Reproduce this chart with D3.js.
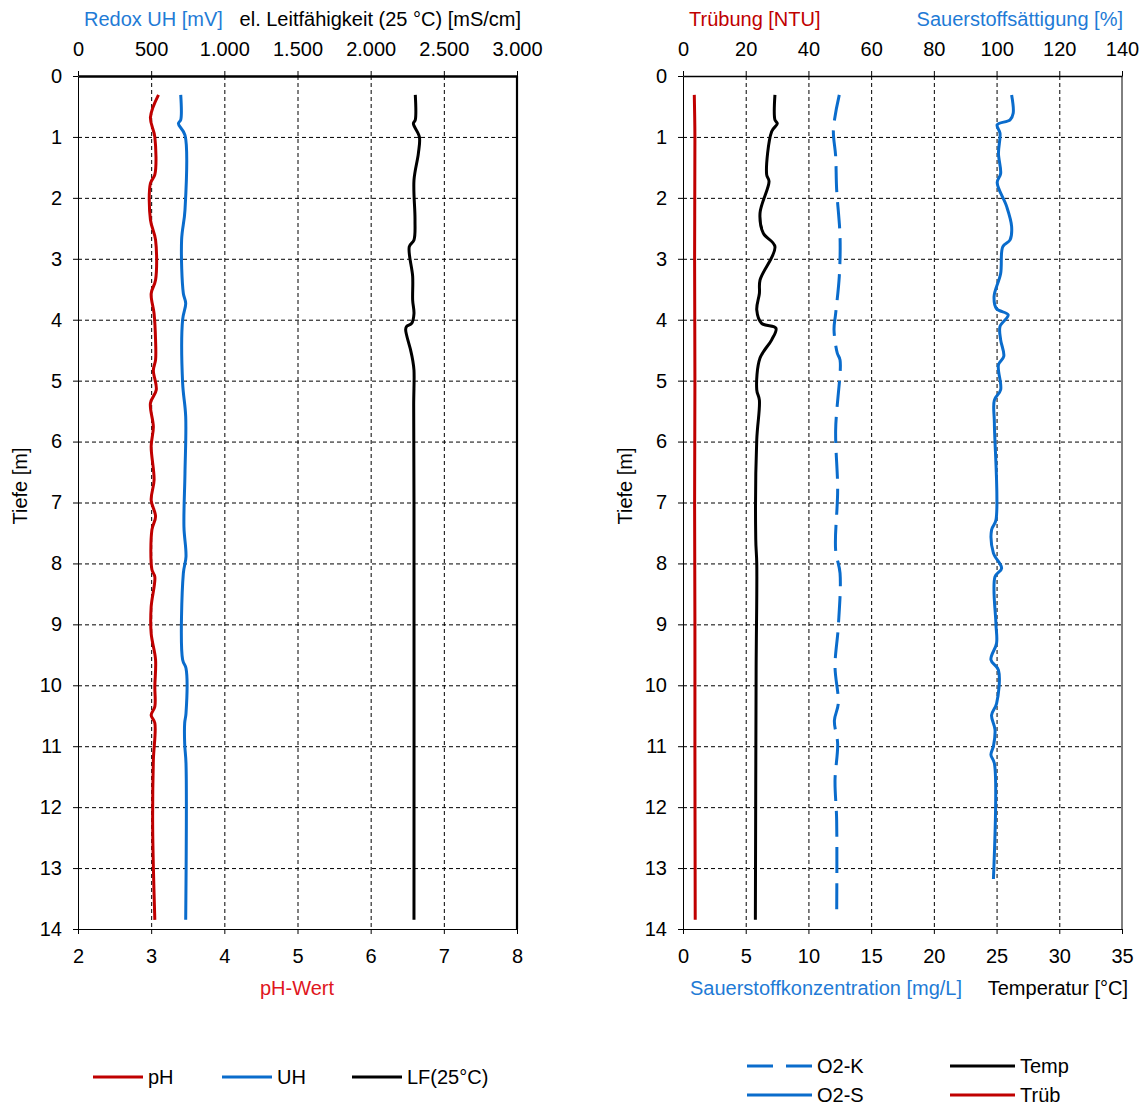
<!DOCTYPE html>
<html>
<head>
<meta charset="utf-8">
<script src="https://d3js.org/d3.v7.min.js"></script>
<style>
  body { margin: 0; background: #fff; }
  text { font-family: Arial, "Liberation Sans", sans-serif; white-space: pre; }
</style>
</head>
<body>
<script>
// depth profile data (Tiefe in m) per series
const phDepth = [0.31,0.68,1.00,1.62,1.76,2.36,2.69,3.35,3.57,3.90,4.33,4.66,4.83,5.15,5.37,5.76,6.08,6.63,6.96,7.23,7.45,8.10,8.22,8.71,9.15,9.58,10.02,10.35,10.49,10.62,11.23,12.21,12.98,13.85];
const phVal   = [3.10,2.99,3.05,3.05,2.99,2.99,3.06,3.06,3.00,3.04,3.06,3.06,3.03,3.07,2.99,3.03,3.00,3.04,3.00,3.06,3.01,3.01,3.05,3.00,3.00,3.06,3.05,3.05,3.00,3.05,3.03,3.02,3.03,3.05];

const uhDepth = [0.31,0.72,0.78,0.97,2.20,2.69,3.57,3.73,4.00,5.04,5.59,6.52,7.40,7.89,8.16,9.58,9.72,10.46,10.62,10.96,11.28,13.85];
const uhVal   = [702,702,686,731,731,708,720,736,715,715,736,731,724,738,720,715,738,738,729,729,738,736];

const lfDepth = [0.31,0.72,0.78,1.00,1.27,1.71,2.36,2.69,2.80,3.29,3.68,3.90,4.06,4.11,4.16,4.50,4.66,4.83,5.40,7.00,13.85];
const lfVal   = [2305,2305,2292,2333,2326,2296,2303,2296,2264,2287,2287,2296,2280,2246,2239,2273,2287,2296,2294,2296,2296];

const trubDepth = [0.31,1.00,3.00,5.00,7.00,9.00,11.00,13.85];
const trubVal   = [3.6,3.8,3.7,3.8,3.7,3.8,3.8,3.9];

const tempDepth = [0.31,0.72,0.78,0.91,1.62,1.73,2.25,2.58,2.80,3.35,3.57,3.84,4.06,4.14,4.33,4.63,5.15,5.32,5.97,7.60,8.00,9.75,13.85];
const tempVal   = [7.33,7.33,7.52,7.07,6.67,6.86,6.14,6.40,7.33,6.14,6.09,5.88,6.27,7.41,7.07,6.14,5.88,6.09,5.88,5.80,5.88,5.83,5.77];

const o2kDepth = [0.31,0.88,1.31,1.86,2.64,3.29,3.90,4.16,4.55,4.66,5.81,6.79,7.78,8.16,9.04,9.69,10.30,10.58,10.96,11.56,12.21,13.83];
const o2kVal   = [12.46,11.99,12.17,12.25,12.52,12.46,12.17,12.04,12.30,12.52,12.17,12.33,12.17,12.52,12.38,12.12,12.38,12.07,12.33,12.12,12.25,12.25];

const o2sDepth = [0.31,0.61,0.72,0.80,0.94,1.27,1.60,1.75,2.14,2.47,2.69,2.80,3.24,3.62,3.82,3.92,4.11,4.33,4.60,4.74,5.15,5.32,5.70,7.29,7.45,7.83,8.08,8.22,8.99,9.31,9.58,9.75,10.30,10.49,10.73,11.00,11.14,11.28,13.18];
const o2sVal   = [104.8,105.3,104.3,100.2,101.1,100.6,101.3,100.2,103.2,104.8,104.3,102.0,101.3,99.2,100.0,103.7,101.1,101.3,102.3,100.6,101.3,99.3,99.3,99.8,98.4,99.0,101.6,99.5,99.8,100.0,98.2,100.6,100.0,98.4,99.5,99.0,98.2,99.3,99.0];

// tick values
const depthTicks = [0,1,2,3,4,5,6,7,8,9,10,11,12,13,14];
const mvTicks = [0,500,1000,1500,2000,2500,3000];
const phTicks = [2,3,4,5,6,7,8];
const satTicks = [0,20,40,60,80,100,120,140];
const concTicks = [0,5,10,15,20,25,30,35];

const RED = "#c00000", BLUE = "#0a6ccc", BLACK = "#000";
const TXT_BLUE = "#1f7bd6", TXT_RED = "#e0161d";
const FS = 20;

const W = 1147, H = 1106;
const yTop = 76, yBot = 929;
const L = { x0: 78, x1: 517 };
const R = { x0: 683, x1: 1122 };

const de = d3.formatLocale({ decimal: ",", thousands: ".", grouping: [3], currency: ["", " €"] });
const fmtDe = de.format(",");
const fmtInt = d3.format("d");

const svg = d3.select("body").append("svg")
  .attr("width", W)
  .attr("height", H);

const y = d3.scaleLinear().domain([0, 14]).range([yTop, yBot]);

const xMv = d3.scaleLinear().domain([0, 3000]).range([L.x0, L.x1]);
const xPh = d3.scaleLinear().domain([2, 8]).range([L.x0, L.x1]);
const xSat = d3.scaleLinear().domain([0, 140]).range([R.x0, R.x1]);
const xConc = d3.scaleLinear().domain([0, 35]).range([R.x0, R.x1]);

function panel(P, xTopScale, topTicks, topFmt, xBotScale, botTicks, thick) {
  const g = svg.append("g");
  const h = yBot - yTop;

  // grid
  g.append("g")
    .attr("transform", `translate(0,${yTop})`)
    .call(d3.axisBottom(xTopScale).tickValues(topTicks.slice(1, -1)).tickSize(h).tickFormat(""))
    .call(s => s.select(".domain").remove())
    .selectAll("line").attr("stroke", "#000").attr("stroke-dasharray", "4,3");
  g.append("g")
    .attr("transform", `translate(${P.x0},0)`)
    .call(d3.axisRight(y).tickValues(depthTicks.slice(1, -1)).tickSize(P.x1 - P.x0).tickFormat(""))
    .call(s => s.select(".domain").remove())
    .selectAll("line").attr("stroke", "#000").attr("stroke-dasharray", "4,3");

  // axes
  const axT = g.append("g")
    .attr("transform", `translate(0,${yTop})`)
    .call(d3.axisTop(xTopScale).tickValues(topTicks).tickSize(5).tickSizeOuter(0).tickPadding(15).tickFormat(topFmt));
  axT.select(".domain").attr("stroke-width", thick ? 2.5 : 1.3);

  const axB = g.append("g")
    .attr("transform", `translate(0,${yBot})`)
    .call(d3.axisBottom(xBotScale).tickValues(botTicks).tickSize(5).tickSizeOuter(0).tickPadding(15).tickFormat(fmtInt));

  const axL = g.append("g")
    .attr("transform", `translate(${P.x0},0)`)
    .call(d3.axisLeft(y).tickValues(depthTicks).tickSize(5).tickSizeOuter(0).tickPadding(11));

  [axT, axB, axL].forEach(a => a.selectAll("text").attr("font-size", FS).attr("fill", "#000")
    .attr("font-family", "Arial, 'Liberation Sans', sans-serif"));

  // right border
  g.append("line")
    .attr("x1", P.x1).attr("x2", P.x1)
    .attr("y1", yTop).attr("y2", yBot)
    .attr("stroke", "#000").attr("stroke-width", thick ? 2.2 : 1);

  // y title
  g.append("text")
    .attr("transform", `translate(${P.x0 - 51},486) rotate(-90)`)
    .attr("text-anchor", "middle")
    .attr("font-size", FS)
    .text("Tiefe [m]");
  return g;
}

panel(L, xMv, mvTicks, fmtDe, xPh, phTicks, true);
panel(R, xSat, satTicks, fmtInt, xConc, concTicks, false);

// series
function series(depths, vals, xs, color, dash) {
  const pts = d3.zip(depths, vals);
  const line = d3.line()
    .x(d => xs(d[1]))
    .y(d => y(d[0]))
    .curve(d3.curveCatmullRom.alpha(0.5));
  svg.append("path")
    .datum(pts)
    .attr("fill", "none")
    .attr("stroke", color)
    .attr("stroke-width", 3)
    .attr("stroke-linejoin", "round")
    .attr("stroke-dasharray", dash || null)
    .attr("d", line);
}

series(phDepth, phVal, xPh, RED);
series(uhDepth, uhVal, xMv, BLUE);
series(lfDepth, lfVal, xMv, BLACK);

series(trubDepth, trubVal, xSat, RED);
series(tempDepth, tempVal, xConc, BLACK);
series(o2kDepth, o2kVal, xConc, BLUE, "26,10");
series(o2sDepth, o2sVal, xSat, BLUE);

// titles
function label(x, yy, txt, color, anchor) {
  svg.append("text")
    .attr("x", x).attr("y", yy)
    .attr("text-anchor", anchor || "start")
    .attr("font-size", FS)
    .attr("fill", color)
    .text(txt);
}
label(84, 26, "Redox UH [mV]", TXT_BLUE);
label(521, 26, "el. Leitfähigkeit (25 °C) [mS/cm]", "#000", "end");
label(689, 26, "Trübung [NTU]", RED);
label(1123, 26, "Sauerstoffsättigung [%]", TXT_BLUE, "end");

label(297, 995, "pH-Wert", TXT_RED, "middle");
label(690, 995, "Sauerstoffkonzentration [mg/L]", TXT_BLUE);
label(1128, 995, "Temperatur [°C]", "#000", "end");

// legends
const legendItems = [
  { name: "pH", color: RED, x: 93, y: 1077, len: 50 },
  { name: "UH", color: BLUE, x: 222, y: 1077, len: 50 },
  { name: "LF(25°C)", color: BLACK, x: 352, y: 1077, len: 50 },
  { name: "O2-K", color: BLUE, x: 747, y: 1066, len: 65, dash: "26,13" },
  { name: "Temp", color: BLACK, x: 950, y: 1066, len: 65 },
  { name: "O2-S", color: BLUE, x: 747, y: 1095, len: 65 },
  { name: "Trüb", color: RED, x: 950, y: 1095, len: 65 }
];
const lg = svg.append("g").selectAll("g").data(legendItems).join("g")
  .attr("transform", d => `translate(${d.x},${d.y})`);
lg.append("line")
  .attr("x1", 0).attr("x2", d => d.len)
  .attr("stroke", d => d.color)
  .attr("stroke-width", 3)
  .attr("stroke-dasharray", d => d.dash || null);
lg.append("text")
  .attr("x", d => d.len + 5)
  .attr("dy", "0.35em")
  .attr("font-size", FS)
  .text(d => d.name);
</script>
</body>
</html>
